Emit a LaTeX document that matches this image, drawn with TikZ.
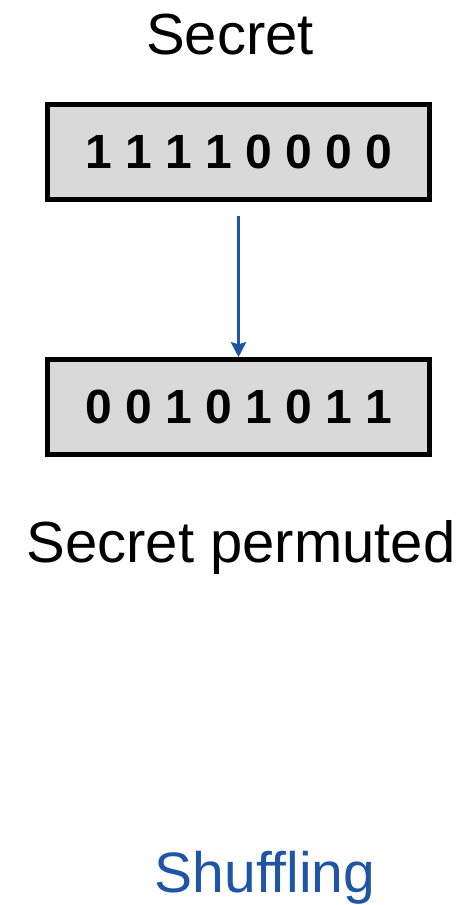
\documentclass[tikz,border=0pt]{standalone}
\usepackage{fontspec}
\setmainfont{Liberation Sans}
\usetikzlibrary{arrows.meta, positioning}

\definecolor{shufblue}{HTML}{1F55A6}
\definecolor{boxgray}{HTML}{D9D9D9}

\begin{document}
\begin{tikzpicture}[x=1pt, y=-1pt, >={Stealth[length=15pt, width=15pt, inset=2pt]},
    bits/.style={draw, line width=4.5pt, fill=boxgray, minimum width=382pt, minimum height=95pt,
                 font=\fontsize{48}{50}\selectfont\bfseries},
    caption/.style={anchor=base, font=\fontsize{58}{62}\selectfont}]
    \useasboundingbox (0,0) rectangle (471,905);

    \node[caption] (top) at (230,54) {Secret};
    \node[bits] (secret) at (238.5,152) {1 1 1 1 0 0 0 0};
    \node[bits] (perm) at (238.5,407) {0 0 1 0 1 0 1 1};
    \node[caption] (bottom) at (241,562) {Secret permuted};

    \draw[->, shufblue, line width=3pt, shorten <=14pt] (secret) -- (perm);

    \node[caption, text=shufblue, font=\fontsize{57}{60}\selectfont] (title) at (265,892) {Shuffling};
\end{tikzpicture}
\end{document}
